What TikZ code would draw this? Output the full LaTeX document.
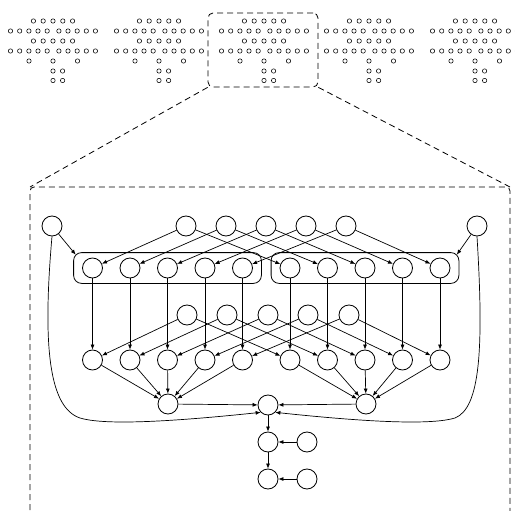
\documentclass[tikz,border=0pt]{standalone}
\usetikzlibrary{arrows.meta,fit,calc}
\begin{document}
\begin{tikzpicture}[x=1pt,y=-1pt,
  vtx/.style={circle,draw,minimum size=20pt,inner sep=0pt,line width=0.8pt},
  tinyv/.style={circle,draw,minimum size=4.4pt,inner sep=0pt,line width=0.55pt},
  arr/.style={-{Latex[length=5pt,width=4pt]},line width=0.7pt},
  curv/.style={-{Latex[length=5pt,width=4pt]},line width=0.7pt},
  framel/.style={dash pattern=on 6pt off 4pt,line width=0.8pt},
  grp/.style={draw,rounded corners=8pt,line width=0.8pt,inner xsep=8.5pt,inner ysep=5pt}]
\useasboundingbox (0,0) rectangle (515,511);

% thumbnails
\foreach \cx [count=\k] in {53,159,264,369,475} {
  \foreach \dx [count=\i] in {-19.6,-9.8,0,9.8,19.6} {
    \node[tinyv] (th\k a\i) at ({\cx+\dx},21) {};
    \node[tinyv] (th\k c\i) at ({\cx+\dx},41) {};
  }
  \foreach \dx [count=\i] in {-42.5,-33.3,-24.1,-15,-5.8,5.9,15,24.2,33.3,42.4} {
    \node[tinyv] (th\k b\i) at ({\cx+\dx},31) {};
    \node[tinyv] (th\k d\i) at ({\cx+\dx},51) {};
  }
  \foreach \dx [count=\i] in {-24,0,24.5} {
    \node[tinyv] (th\k e\i) at ({\cx+\dx},61) {};
  }
  \foreach \dx [count=\i] in {0,9.6} {
    \node[tinyv] (th\k f\i) at ({\cx+\dx},71) {};
    \node[tinyv] (th\k g\i) at ({\cx+\dx},80.5) {};
  }
}

% zoom box and frame
\node[draw,framel,rounded corners=5pt,minimum width=110pt,minimum height=74pt,inner sep=0pt] (zoombox) at (263,50) {};
\coordinate (fTL) at (30,187);
\coordinate (fTR) at (510,187);
\draw[framel,rounded corners=4pt] (30,520) -- (fTL) -- (fTR) -- (510,520);
\draw[framel] (zoombox.south west) -- (fTL);
\draw[framel] (zoombox.south east) -- (fTR);

% main nodes
\node[vtx] (ll) at (52,226) {};
\node[vtx] (lr) at (477,226) {};
\foreach \x [count=\i] in {186,226,266,306,346} \node[vtx] (t\i) at (\x,226) {};
\foreach \x [count=\i] in {187,227,268,308,349} \node[vtx] (m\i) at (\x,315) {};
\foreach \x [count=\i] in {92.5,130,167.5,205,242.5} {
  \node[vtx] (bl\i) at (\x,268) {};
  \node[vtx] (ql\i) at (\x,360) {};
}
\foreach \x [count=\i] in {290,327.5,365,402.5,440} {
  \node[vtx] (br\i) at (\x,268) {};
  \node[vtx] (qr\i) at (\x,360) {};
}
\node[grp,fit=(bl1)(bl5)] (gl) {};
\node[grp,fit=(br1)(br5)] (gr) {};
\node[vtx] (cl) at (168,404) {};
\node[vtx] (cr) at (366,404) {};
\node[vtx] (c) at (268,405) {};
\node[vtx] (d1) at (268,442) {};
\node[vtx] (d2) at (307,442) {};
\node[vtx] (e1) at (268,479) {};
\node[vtx] (e2) at (307,479) {};

% edges
\foreach \i in {1,...,5} {
  \draw[arr] (t\i) -- (bl\i);
  \draw[arr] (t\i) -- (br\i);
  \draw[arr] (m\i) -- (ql\i);
  \draw[arr] (m\i) -- (qr\i);
  \draw[arr] (bl\i) -- (ql\i);
  \draw[arr] (br\i) -- (qr\i);
  \draw[arr] (ql\i) -- (cl);
  \draw[arr] (qr\i) -- (cr);
}
\draw[arr] (ll) -- ($(gl.north west)+(2.5,2.5)$);
\draw[arr] (lr) -- ($(gr.north east)+(-2.5,2.5)$);
\draw[arr] (cl) -- (c);
\draw[arr] (cr) -- (c);
\draw[arr] (c) -- (d1);
\draw[arr] (d2) -- (d1);
\draw[arr] (d1) -- (e1);
\draw[arr] (e2) -- (e1);
\draw[curv] (ll.south) .. controls (42,350) and (50,408) .. (80,418)
  .. controls (100,424) and (150,424) .. (c.south west);
\draw[curv] (lr.south) .. controls (484,350) and (480,408) .. (455,418)
  .. controls (435,424) and (385,424) .. (c.south east);
\end{tikzpicture}
\end{document}
